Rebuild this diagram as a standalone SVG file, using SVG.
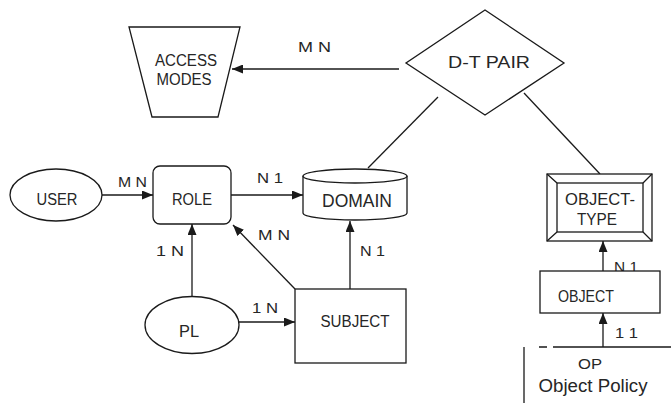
<svg xmlns="http://www.w3.org/2000/svg" width="671" height="403" viewBox="0 0 671 403">
<style>
  .shape { fill: #ffffff; stroke: #1a1a1a; stroke-width: 1.3; }
  .line { fill: none; stroke: #1a1a1a; stroke-width: 1.3; }
  .t { font-family: "Liberation Sans", Arial, sans-serif; font-size: 16px; fill: #262626; text-anchor: middle; }
  .lbl { font-family: "Liberation Sans", Arial, sans-serif; font-size: 15px; fill: #262626; }
</style>
<defs>
  <marker id="ah" markerWidth="11" markerHeight="9" refX="11" refY="4.5" orient="auto" markerUnits="userSpaceOnUse">
    <path d="M0,0 L11,4.5 L0,9 z" fill="#1a1a1a"/>
  </marker>
</defs>
<rect width="671" height="403" fill="#ffffff"/>

<g id="connectors">
  <path class="line" d="M399,69 L232,69" marker-end="url(#ah)"/>
  <path class="line" d="M102,195 L153,195" marker-end="url(#ah)"/>
  <path class="line" d="M231,195 L303,195" marker-end="url(#ah)"/>
  <path class="line" d="M192,297 L192,224" marker-end="url(#ah)"/>
  <path class="line" d="M295,289 L233,225" marker-end="url(#ah)"/>
  <path class="line" d="M239,322 L295,322" marker-end="url(#ah)"/>
  <path class="line" d="M350,289 L350,221" marker-end="url(#ah)"/>
  <path class="line" d="M438,97 L368,168"/>
  <path class="line" d="M524,93 L600,174"/>
  <path class="line" d="M603,271 L603,241" marker-end="url(#ah)"/>
  <path class="line" d="M603,347 L603,313" marker-end="url(#ah)"/>
  <text class="lbl" x="298" y="52" textLength="33" lengthAdjust="spacingAndGlyphs">M N</text>
  <text class="lbl" x="118" y="187" textLength="29" lengthAdjust="spacingAndGlyphs">M N</text>
  <text class="lbl" x="257" y="183" textLength="26" lengthAdjust="spacingAndGlyphs">N 1</text>
  <text class="lbl" x="258" y="240" textLength="32" lengthAdjust="spacingAndGlyphs">M N</text>
  <text class="lbl" x="156" y="256" textLength="28" lengthAdjust="spacingAndGlyphs">1 N</text>
  <text class="lbl" x="360" y="256" textLength="25" lengthAdjust="spacingAndGlyphs">N 1</text>
  <text class="lbl" x="252" y="313" textLength="26" lengthAdjust="spacingAndGlyphs">1 N</text>
  <text class="lbl" x="614" y="272" textLength="24" lengthAdjust="spacingAndGlyphs">N 1</text>
  <text class="lbl" x="615" y="338" textLength="23" lengthAdjust="spacingAndGlyphs">1 1</text>
</g>

<g id="access-modes">
  <path class="shape" d="M129,27 L240,27 L218,117 L152,117 Z"/>
  <text class="t" x="186" y="66" textLength="62" lengthAdjust="spacingAndGlyphs">ACCESS</text>
  <text class="t" x="184" y="85" textLength="55" lengthAdjust="spacingAndGlyphs">MODES</text>
</g>

<g id="dt-pair">
  <path class="shape" d="M485,10 L564,63 L485,115 L406,63 Z"/>
  <text class="t" x="489" y="68" textLength="82" lengthAdjust="spacingAndGlyphs">D-T PAIR</text>
</g>

<g id="user">
  <ellipse class="shape" cx="56" cy="195" rx="46" ry="26"/>
  <text class="t" x="57" y="205" textLength="41" lengthAdjust="spacingAndGlyphs">USER</text>
</g>

<g id="role">
  <rect class="shape" x="153" y="166" width="78" height="58" rx="7"/>
  <text class="t" x="192" y="205" textLength="40" lengthAdjust="spacingAndGlyphs">ROLE</text>
</g>

<g id="domain">
  <path class="shape" d="M303,176 L303,213 A52,7 0 0 0 407,213 L407,176"/>
  <ellipse class="shape" cx="355" cy="176" rx="52" ry="7"/>
  <text class="t" x="357" y="207" style="font-size:19px" textLength="70" lengthAdjust="spacingAndGlyphs">DOMAIN</text>
</g>

<g id="pl">
  <ellipse class="shape" cx="192" cy="325" rx="47" ry="28.5"/>
  <text class="t" x="189" y="337" textLength="20" lengthAdjust="spacingAndGlyphs">PL</text>
</g>

<g id="subject">
  <rect class="shape" x="295" y="289" width="111" height="74"/>
  <text class="t" x="355" y="327" textLength="69" lengthAdjust="spacingAndGlyphs">SUBJECT</text>
</g>

<g id="object-type">
  <rect class="shape" x="547" y="174" width="105" height="67"/>
  <rect class="shape" x="557" y="183" width="86" height="49"/>
  <path class="line" d="M547,174 L557,183 M652,174 L643,183 M547,241 L557,232 M652,241 L643,232"/>
  <text class="t" x="600" y="205" textLength="70" lengthAdjust="spacingAndGlyphs">OBJECT-</text>
  <text class="t" x="597" y="225" textLength="40" lengthAdjust="spacingAndGlyphs">TYPE</text>
</g>

<g id="object">
  <rect class="shape" x="540" y="271" width="120" height="42"/>
  <text class="t" x="586" y="302" textLength="56" lengthAdjust="spacingAndGlyphs">OBJECT</text>
</g>

<g id="object-policy">
  <path class="line" d="M539,347 L547,347 M553,347 L671,347 M524,347 L524,403"/>
  <text class="t" x="590" y="369" style="font-size:14px" textLength="24" lengthAdjust="spacingAndGlyphs">OP</text>
  <text class="t" x="593" y="392" style="font-size:18px" textLength="109" lengthAdjust="spacingAndGlyphs">Object Policy</text>
</g>
</svg>
